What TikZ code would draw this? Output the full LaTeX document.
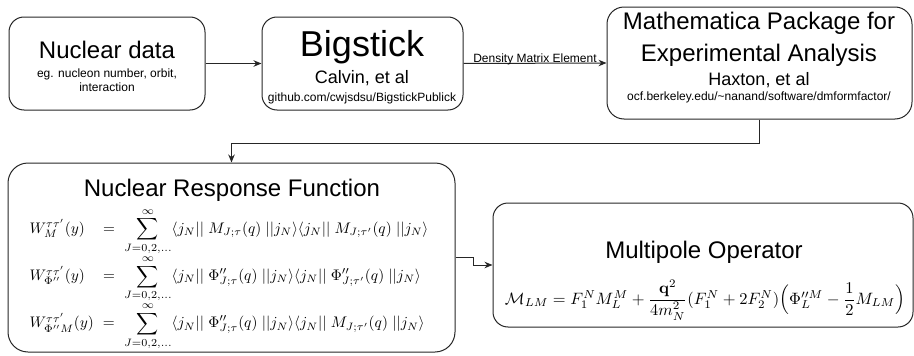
\documentclass[tikz,border=0pt]{standalone}
\usepackage{amsmath}
\usepackage{graphicx}
\usepackage[no-math]{fontspec}
\setmainfont{Liberation Sans}
\usetikzlibrary{arrows.meta}
\begin{document}
\begin{tikzpicture}[x=1pt,y=-1pt,
  box/.style={draw=black!85, line width=1pt, rounded corners=#1},
  box/.default=15pt,
  conn/.style={draw=black!85, line width=1pt, -{Stealth[length=8pt,width=6.5pt]}},
  txt/.style={inner sep=0pt, align=center, text=black},
  fbig/.style={font=\fontsize{36}{40}\selectfont},
  ftitle/.style={font=\fontsize{24}{32}\selectfont},
  fmid/.style={font=\fontsize{18}{20}\selectfont},
  fsmall/.style={font=\fontsize{12}{14}\selectfont}]
\useasboundingbox (0,0) rectangle (914,356);

% boxes
\node[box, minimum width=196pt, minimum height=93pt] (nd) at (107,63.5) {};
\node[box, minimum width=201pt, minimum height=93pt] (bs) at (362.5,63.5) {};
\node[box=17pt, minimum width=305pt, minimum height=112pt] (mp) at (759.5,63) {};
\node[box=20pt, minimum width=447pt, minimum height=189pt] (nr) at (231.5,257.5) {};
\node[box=15pt, minimum width=420pt, minimum height=124pt] (mo) at (703,265) {};

% texts
\node[txt, ftitle] (ndt) at (107,50) {Nuclear data};
\node[txt, fsmall] (nds) at (107,80) {eg. nucleon number, orbit,\\interaction};

\node[txt, fbig] (bst) at (362,47) {Bigstick};
\node[txt, fmid] (bsa) at (362,78) {Calvin, et al};
\node[txt, fsmall] (bsu) at (362,98) {github.com/cwjsdsu/BigstickPublick};

\node[txt, ftitle] (mpt) at (759,39) {Mathematica Package for\\Experimental Analysis};
\node[txt, fmid] (mpa) at (759,80) {Haxton, et al};
\node[txt, fsmall] (mpu) at (759,97) {ocf.berkeley.edu/\textasciitilde nanand/software/dmformfactor/};

\node[txt, ftitle] (nrt) at (232,190) {Nuclear Response Function};
\node[txt] (nre) at (229,279) {\setlength{\arraycolsep}{3pt}\resizebox{408pt}{!}{$\begin{array}{lcl}
W_M^{\tau\tau'}(y) &=& \displaystyle\sum_{J=0,2,\dots}^{\infty} \langle j_N||\; M_{J;\tau}(q)\; ||j_N\rangle\langle j_N||\; M_{J;\tau'}(q)\; ||j_N\rangle\\[1pt]
W_{\Phi''}^{\tau\tau'}(y) &=& \displaystyle\sum_{J=0,2,\dots}^{\infty} \langle j_N||\; \Phi''_{J;\tau}(q)\; ||j_N\rangle\langle j_N||\; \Phi''_{J;\tau'}(q)\; ||j_N\rangle\\[1pt]
W_{\Phi'' M}^{\tau\tau'}(y) &=& \displaystyle\sum_{J=0,2,\dots}^{\infty} \langle j_N||\; \Phi''_{J;\tau}(q)\; ||j_N\rangle\langle j_N||\; M_{J;\tau'}(q)\; ||j_N\rangle
\end{array}$}};

\node[txt, ftitle] (mot) at (704,252) {Multipole Operator};
\node[txt] (moe) at (705,300) {\resizebox{400pt}{!}{$\mathcal{M}_{LM} = F_1^N M_L^M + \dfrac{\mathbf{q}^2}{4m_N^2}(F_1^N + 2F_2^N)\Big(\Phi_L^{\prime\prime M} - \dfrac{1}{2}M_{LM}\Big)$}};

% connectors
\draw[conn] (nd.east) -- (bs.west);
\draw[conn] (bs.east) -- node[txt, fsmall, anchor=base, yshift=1pt] (dme) {Density Matrix Element} (mp.west);
\draw[conn] (mp.south) -- ++(0,24) -| (nr.north);
\draw[conn] (nr.east) -- ++(18,0) |- (mo.west);
\end{tikzpicture}
\end{document}
